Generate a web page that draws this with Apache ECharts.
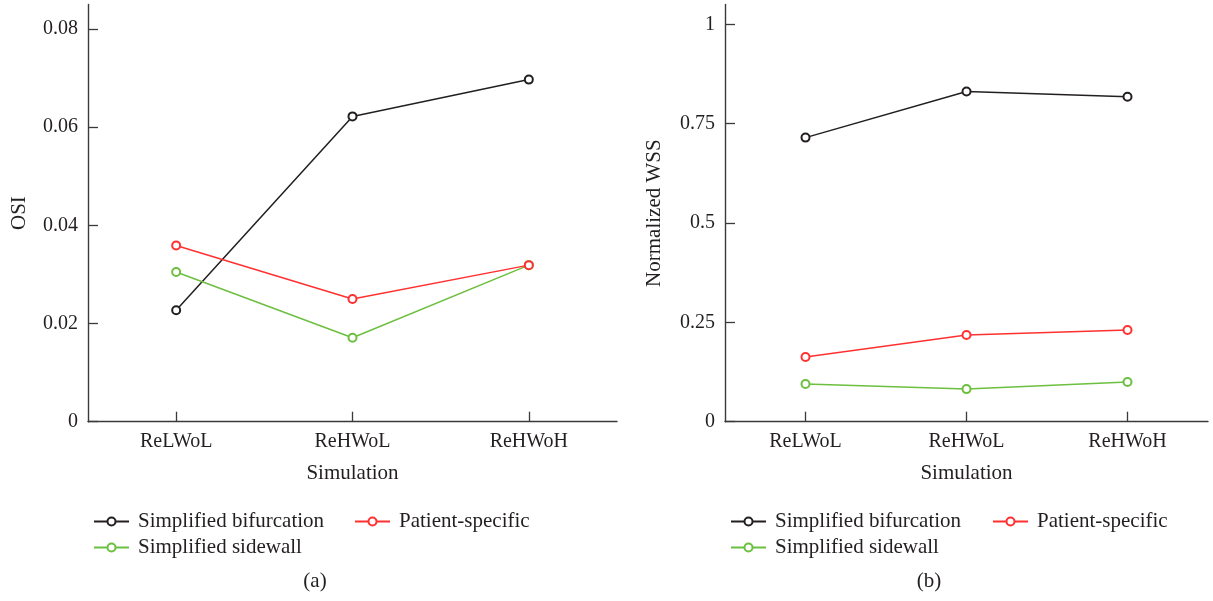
<!DOCTYPE html>
<html>
<head>
<meta charset="utf-8">
<script src="https://cdn.jsdelivr.net/npm/echarts@6/dist/echarts.min.js"></script>
<style>
html,body{margin:0;padding:0;background:#fff;}
#chart{width:1213px;height:601px;}
</style>
</head>
<body>
<div id="chart"></div>
<script>
const categories = ['ReLWoL', 'ReHWoL', 'ReHWoH'];
const seriesNames = ['Simplified bifurcation', 'Simplified sidewall', 'Patient-specific'];
const osiBifurcation = [0.0227, 0.0622, 0.0697];
const osiSidewall = [0.0305, 0.0171, 0.0319];
const osiPatient = [0.0359, 0.0250, 0.0319];
const wssBifurcation = [0.715, 0.831, 0.818];
const wssSidewall = [0.095, 0.082, 0.100];
const wssPatient = [0.163, 0.218, 0.231];
const osiTicks = [0, 0.02, 0.04, 0.06, 0.08];
const wssTicks = [0, 0.25, 0.5, 0.75, 1];
const panelCaptions = ['(a)', '(b)'];

const FONT = 'Liberation Serif';
const TXT = '#231f20';
const colors = ['#231f20', '#6cbf3f', '#ff3030'];
const axisColor = '#3a3a3a';

const chart = echarts.init(document.getElementById('chart'), null, {renderer: 'canvas'});

function xAxisCfg(gridIndex) {
  return {
    type: 'category', gridIndex, data: categories, boundaryGap: true,
    name: 'Simulation', nameLocation: 'middle', nameGap: 41,
    nameTextStyle: {fontFamily: FONT, fontSize: 21, color: TXT},
    axisLine: {show: true, lineStyle: {color: axisColor, width: 1.4}},
    axisTick: {show: true, inside: true, alignWithLabel: true, length: 10, lineStyle: {color: axisColor, width: 1.3}},
    axisLabel: {fontFamily: FONT, fontSize: 20, color: TXT, margin: 10},
    splitLine: {show: false}
  };
}
function yAxisCfg(gridIndex, name, max, ticks, gap) {
  return {
    type: 'value', gridIndex, min: 0, max,
    name, nameLocation: 'middle', nameGap: gap,
    nameTextStyle: {fontFamily: FONT, fontSize: 21, color: TXT},
    axisLine: {show: true, lineStyle: {color: axisColor, width: 1.4}},
    axisTick: {show: true, inside: true, length: 10, customValues: ticks, lineStyle: {color: axisColor, width: 1.3}},
    axisLabel: {fontFamily: FONT, fontSize: 20, color: TXT, margin: 10, customValues: ticks},
    splitLine: {show: false}
  };
}
function lineSeries(name, data, idx, color) {
  return {
    type: 'line', name, data, xAxisIndex: idx, yAxisIndex: idx,
    symbol: 'emptyCircle', symbolSize: 8,
    lineStyle: {color, width: 1.5},
    itemStyle: {color, borderColor: color, borderWidth: 1.3},
    emphasis: {disabled: true},
    animation: false
  };
}
function legendCfg(left, names) {
  return {
    left, top: 506, orient: 'vertical', itemGap: 5, itemWidth: 35, itemHeight: 10,
    data: names, selectedMode: false,
    textStyle: {fontFamily: FONT, fontSize: 21, color: TXT, padding: [0, 0, 0, 4]}
  };
}

const option = {
  backgroundColor: '#fff',
  animation: false,
  color: colors,
  title: [
    {text: panelCaptions[0], left: 310, top: 566, textAlign: 'center',
     textStyle: {fontFamily: FONT, fontSize: 21, fontWeight: 'normal', color: TXT}},
    {text: panelCaptions[1], left: 924, top: 566, textAlign: 'center',
     textStyle: {fontFamily: FONT, fontSize: 21, fontWeight: 'normal', color: TXT}}
  ],
  legend: [
    legendCfg(88, [seriesNames[0], seriesNames[1]]),
    legendCfg(349, [seriesNames[2]]),
    legendCfg(725, [seriesNames[0], seriesNames[1]]),
    legendCfg(987, [seriesNames[2]])
  ],
  grid: [
    {left: 88, right: 596, top: 4.5, bottom: 179.3},
    {left: 725, right: 5, top: 4.5, bottom: 179.3}
  ],
  xAxis: [xAxisCfg(0), xAxisCfg(1)],
  yAxis: [
    yAxisCfg(0, 'OSI', 0.085, osiTicks, 58),
    yAxisCfg(1, 'Normalized WSS', 1.05, wssTicks, 60)
  ],
  series: [
    lineSeries(seriesNames[0], osiBifurcation, 0, colors[0]),
    lineSeries(seriesNames[1], osiSidewall, 0, colors[1]),
    lineSeries(seriesNames[2], osiPatient, 0, colors[2]),
    lineSeries(seriesNames[0], wssBifurcation, 1, colors[0]),
    lineSeries(seriesNames[1], wssSidewall, 1, colors[1]),
    lineSeries(seriesNames[2], wssPatient, 1, colors[2])
  ]
};
chart.setOption(option);
</script>
</body>
</html>
